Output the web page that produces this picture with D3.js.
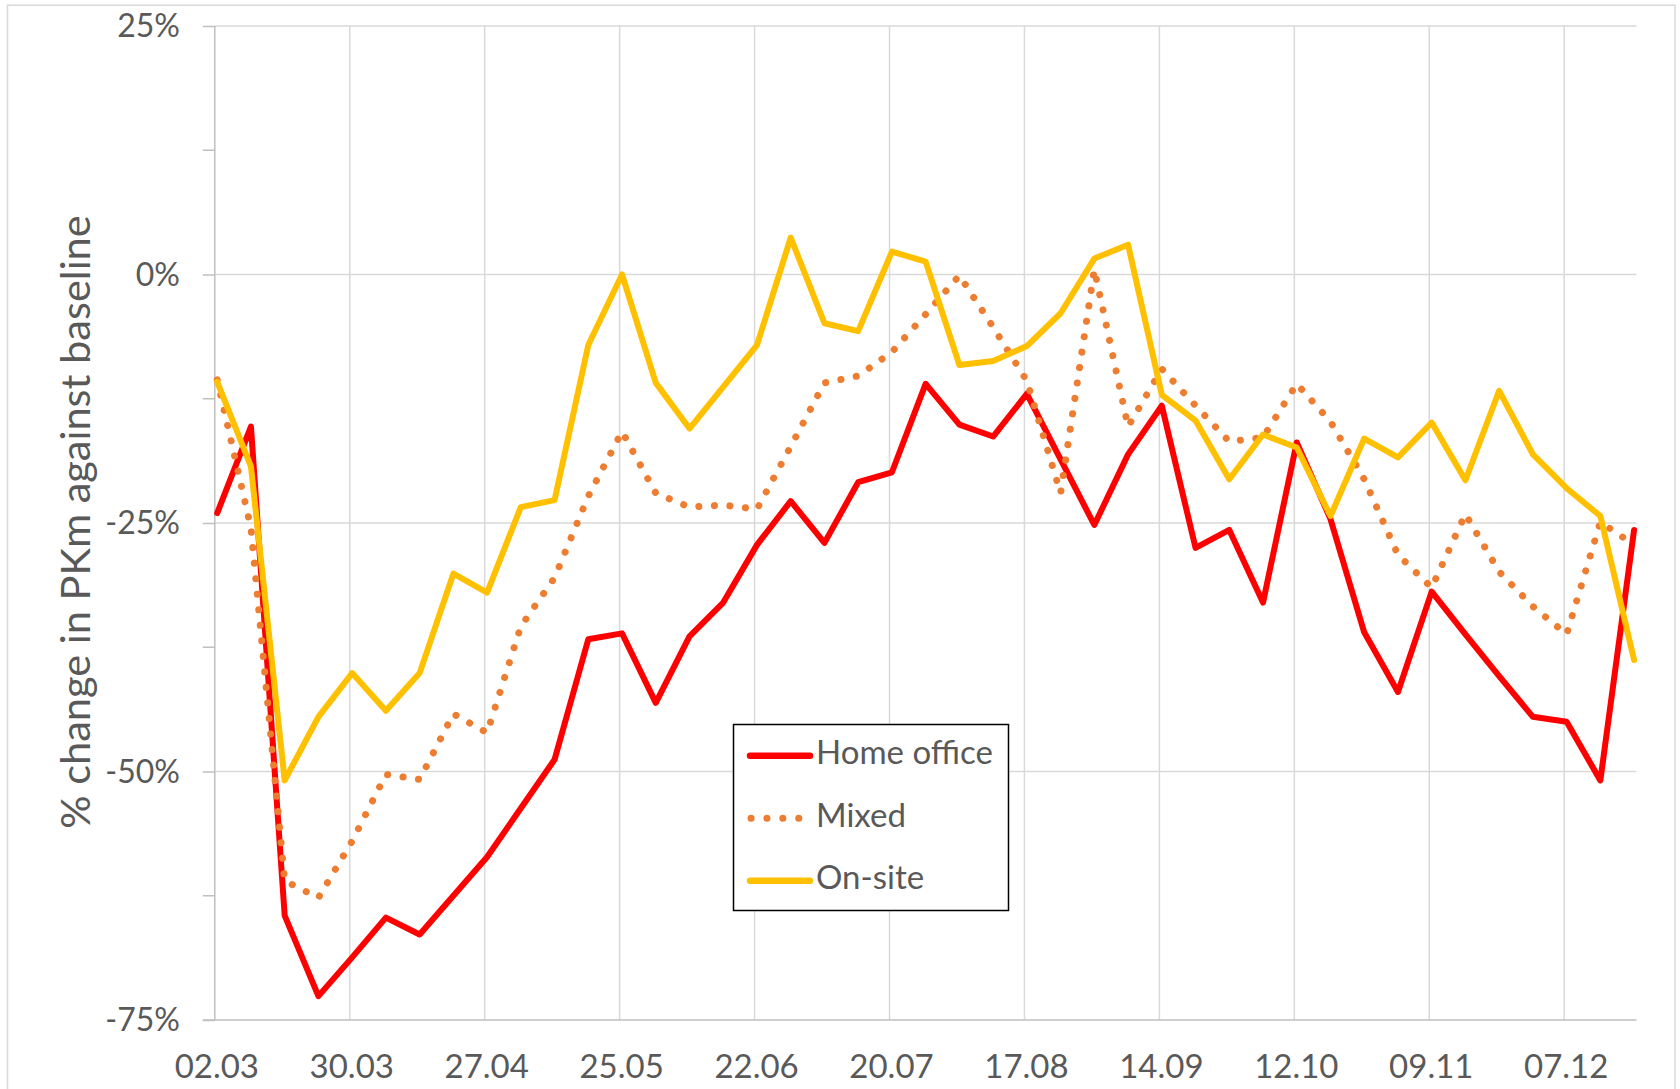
<!DOCTYPE html>
<html>
<head>
<meta charset="utf-8">
<script src="https://cdn.jsdelivr.net/npm/d3@7"></script>
<style>
  html, body { margin: 0; padding: 0; background: #fff; }
  svg { display: block; font-family: Lato, "Open Sans", sans-serif; }
</style>
</head>
<body>
<svg id="chart" width="1680" height="1089"></svg>
<script>
// ---- Data (weekly values, % change in PKm against baseline) ----
const startDate = "2020-03-02";
const seriesNames = ["Home office", "Mixed", "On-site"];
const homeOffice = [-24.0, -15.3, -64.5, -72.6, -68.7, -64.7, -66.4, -62.5, -58.6, -53.7,
  -48.8, -36.7, -36.1, -43.1, -36.4, -33.0, -27.2, -22.8, -27.0, -20.9,
  -19.9, -11.0, -15.1, -16.3, -12.0, -18.6, -25.2, -18.1, -13.2, -27.5,
  -25.7, -33.0, -16.9, -24.6, -36.0, -42.0, -31.9, -36.2, -40.4, -44.5,
  -45.0, -50.9, -25.7];
const mixed = [-10.6, -25.5, -61.0, -62.7, -57.0, -50.3, -50.8, -44.2, -46.1, -35.4,
  -30.5, -22.3, -15.8, -22.0, -23.4, -23.2, -23.6, -17.3, -10.9, -10.2,
  -7.8, -4.0, -0.1, -5.3, -10.7, -22.0, 0.5, -15.3, -9.5, -13.2,
  -16.8, -16.4, -11.0, -14.8, -20.6, -28.2, -31.5, -24.1, -29.9, -33.4,
  -36.2, -24.9, -27.2];
const onSite = [-10.8, -19.3, -50.9, -44.5, -40.1, -43.9, -40.1, -30.1, -32.0, -23.4,
  -22.7, -7.1, 0.0, -10.9, -15.5, -11.3, -7.1, 3.7, -4.9, -5.7,
  2.3, 1.3, -9.1, -8.7, -7.2, -3.9, 1.6, 3.0, -12.1, -14.7,
  -20.6, -16.1, -17.4, -24.3, -16.5, -18.4, -14.9, -20.7, -11.7, -18.1,
  -21.5, -24.3, -38.8];
const xTickLabels = ["02.03", "30.03", "27.04", "25.05", "22.06", "20.07", "17.08", "14.09", "12.10", "09.11", "07.12"];
const yTickValues = [-75, -50, -25, 0, 25];
const yTickLabels = ["-75%", "-50%", "-25%", "0%", "25%"];
const yMinorTicks = [-62.5, -37.5, -12.5, 12.5];
const yTitle = "% change in PKm against baseline";

// ---- Setup ----
const svg = d3.select("#chart");
const textColor = "#595959";
const gridColor = "#D9D9D9";
const axisColor = "#BFBFBF";
const colors = { "Home office": "#FF0000", "Mixed": "#ED7D31", "On-site": "#FFC000" };

const parseISO = d3.timeParse("%Y-%m-%d");
const parseTick = d3.timeParse("%d.%m.%Y");
const d0 = parseISO(startDate);
// each weekly point sits in the middle of its day slot (date axis)
const dates = homeOffice.map((_, i) => d3.timeHour.offset(d3.timeDay.offset(d0, 7 * i), 12));
const tickDates = xTickLabels.map(l => parseTick(l + ".2020"));

const x = d3.scaleTime()
  .domain([d0, parseISO("2020-12-22")])
  .range([214.8, 1636.5]);
const y = d3.scaleLinear().domain([-75, 25]).range([1020, 26]);

// Outer chart border
svg.append("rect")
  .attr("x", 7.5).attr("y", 5.2).attr("width", 1667.5).attr("height", 1100)
  .attr("fill", "none").attr("stroke", gridColor).attr("stroke-width", 1.5);

// Horizontal gridlines
svg.append("g").selectAll("line").data(yTickValues.filter(v => v !== -75)).join("line")
  .attr("x1", x.range()[0]).attr("x2", x.range()[1])
  .attr("y1", d => y(d)).attr("y2", d => y(d))
  .attr("stroke", gridColor).attr("stroke-width", 1.5);

// Vertical gridlines
svg.append("g").selectAll("line").data(tickDates.slice(1)).join("line")
  .attr("x1", d => x(d)).attr("x2", d => x(d))
  .attr("y1", y(25)).attr("y2", y(-75))
  .attr("stroke", gridColor).attr("stroke-width", 1.5);

// Y axis (ticks outward, labels)
const yAxis = d3.axisLeft(y).tickValues(yTickValues).tickSize(12)
  .tickFormat((d, i) => yTickLabels[i]);
const gy = svg.append("g").attr("transform", `translate(${x.range()[0]},0)`).call(yAxis);
gy.select(".domain").attr("stroke", axisColor).attr("stroke-width", 1.5).attr("d", `M0,${y(25)}V${y(-75)}`);
gy.selectAll(".tick line").attr("stroke", axisColor).attr("stroke-width", 1.5);
gy.selectAll(".tick text").attr("x", -34.8).attr("dy", "0.33em")
  .attr("fill", textColor).style("font-size", "32px").style("font-family", "Lato, sans-serif");
// minor ticks
svg.append("g").selectAll("line").data(yMinorTicks).join("line")
  .attr("x1", x.range()[0] - 12).attr("x2", x.range()[0])
  .attr("y1", d => y(d)).attr("y2", d => y(d))
  .attr("stroke", axisColor).attr("stroke-width", 1.5);

// X axis
const xAxis = d3.axisBottom(x).tickValues(tickDates).tickSize(0)
  .tickFormat((d, i) => xTickLabels[i]);
const gx = svg.append("g").attr("transform", `translate(0,${y(-75)})`).call(xAxis);
gx.select(".domain").attr("stroke", axisColor).attr("stroke-width", 1.5)
  .attr("d", `M${x.range()[0] - 12},0H${x.range()[1]}`);
gx.selectAll(".tick text").attr("x", 1.5).attr("y", 57.5).attr("dy", 0)
  .attr("fill", textColor).style("font-size", "33px").style("font-family", "Lato, sans-serif");

// Y title
svg.append("text")
  .attr("transform", `translate(90,522) rotate(-90)`)
  .attr("text-anchor", "middle")
  .attr("fill", textColor)
  .style("font-size", "41.5px")
  .text(yTitle);

// Lines
const line = d3.line().x((d, i) => x(dates[i])).y(d => y(d));
const seriesData = [["Home office", homeOffice], ["Mixed", mixed], ["On-site", onSite]];
seriesData.forEach(([name, vals]) => {
  const p = svg.append("path").datum(vals)
    .attr("d", line)
    .attr("fill", "none")
    .attr("stroke", colors[name])
    .attr("stroke-linejoin", "round")
    .attr("stroke-linecap", "round");
  if (name === "Mixed") {
    p.attr("stroke-width", 7).attr("stroke-dasharray", "0.1 15.5");
  } else {
    p.attr("stroke-width", 6);
  }
});

// Legend
const lg = svg.append("g");
lg.append("rect").attr("x", 733.5).attr("y", 724.5).attr("width", 275).attr("height", 186)
  .attr("fill", "#fff").attr("stroke", "#000").attr("stroke-width", 1.5);
const rowLineY = [755.7, 818.3, 880.7];
seriesNames.forEach((name, i) => {
  const ln = lg.append("line")
    .attr("x1", 750).attr("x2", 810)
    .attr("y1", rowLineY[i]).attr("y2", rowLineY[i])
    .attr("stroke", colors[name]).attr("stroke-linecap", "round");
  if (name === "Mixed") ln.attr("stroke-width", 7).attr("stroke-dasharray", "0.1 15.8").attr("x1", 751).attr("x2", 800);
  else ln.attr("stroke-width", 6.5);
  lg.append("text").attr("x", 816).attr("y", rowLineY[i] + 8.5)
    .attr("fill", textColor).style("font-size", "33px").text(name);
});
</script>
</body>
</html>
